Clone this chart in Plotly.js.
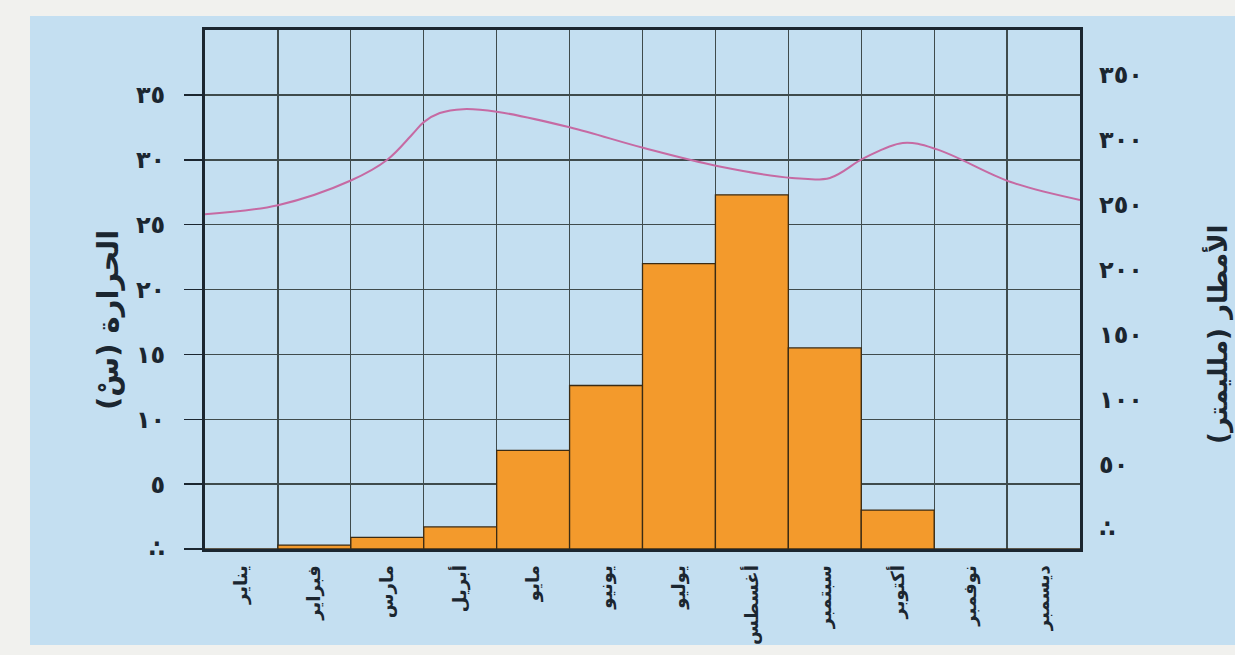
<!DOCTYPE html>
<html>
<head>
<meta charset="utf-8">
<script src="https://cdn.plot.ly/plotly-3.0.1.min.js"></script>
<style>
  html, body { margin: 0; padding: 0; background: #f1f1ee; }
  #chart { width: 1235px; height: 655px; }
</style>
</head>
<body>
<div id="chart"></div>
<script>
// Months (categories, positioned 1..12)
const months = ['يناير','فبراير','مارس','أبريل','مايو','يونيو','يوليو','أغسطس','سبتمبر','أكتوبر','نوفمبر','ديسمبر'];
const monthPos = [1,2,3,4,5,6,7,8,9,10,11,12];

// Rainfall (mm) per month
const rainfall = [0, 3, 9, 17, 76, 126, 220, 273, 155, 30, 0, 0];

// Temperature curve (°C), positions in month units
const tempPos = [0.5, 1.5, 2.5, 3.0, 3.35, 3.5, 3.72, 4.04, 4.5, 5.5, 6.52, 7.54, 8.55, 9.07, 9.53, 10.07, 10.54, 11.54, 12.5];
const tempVal = [25.8, 26.5, 28.4, 30.0, 32.0, 32.9, 33.6, 33.9, 33.7, 32.5, 30.9, 29.5, 28.6, 28.6, 30.1, 31.3, 30.8, 28.3, 26.9];

// Axis tick labels
const tempTickVals = [0, 5, 10, 15, 20, 25, 30, 35];
const tempTickText = ['∴', '٥', '١٠', '١٥', '٢٠', '٢٥', '٣٠', '٣٥'];
const rainTickVals = [0, 50, 100, 150, 200, 250, 300, 350];
const rainTickText = ['∴', '٥٠', '١٠٠', '١٥٠', '٢٠٠', '٢٥٠', '٣٠٠', '٣٥٠'];

const tempTitle = 'الحرارة (سْ)';
const rainTitle = 'الأمطار (ملليمتر)';

const ink = '#1b2630';
const gridCol = '#3f4b4c';
const blue = '#c4dff1';
const fontFam = 'DejaVu Sans, Noto Sans, sans-serif';

const traces = [
  {
    type: 'bar',
    x: monthPos,
    y: rainfall,
    yaxis: 'y2',
    width: 1,
    marker: { color: '#f39a2c', line: { color: '#3a2b14', width: 1.3 } },
    hoverinfo: 'y',
    showlegend: false
  },
  {
    type: 'scatter',
    mode: 'lines',
    x: tempPos,
    y: tempVal,
    yaxis: 'y',
    line: { color: '#c66aa3', width: 2, shape: 'spline', smoothing: 1 },
    showlegend: false
  }
];

const layout = {
  width: 1235,
  height: 655,
  margin: { l: 205, r: 155, t: 30, b: 106 },
  paper_bgcolor: '#f1f1ee',
  plot_bgcolor: blue,
  font: { family: fontFam, color: ink },
  bargap: 0,
  shapes: [
    { type: 'rect', xref: 'paper', yref: 'paper', layer: 'below',
      x0: -205/875 + 30/875, x1: 1 + 155/875, y0: -106/519 + 10/519, y1: 1 + 14/519,
      fillcolor: blue, line: { width: 0 } }
  ],
  annotations: [
    { text: tempTitle, xref: 'paper', yref: 'paper', x: (108 - 205) / 875, y: (549 - 320) / 519,
      xanchor: 'center', yanchor: 'middle', textangle: -90, showarrow: false,
      font: { family: fontFam, size: 29, color: ink, weight: 'bold' } },
    { text: rainTitle, xref: 'paper', yref: 'paper', x: (1218 - 205) / 875, y: (549 - 335) / 519,
      xanchor: 'center', yanchor: 'middle', textangle: -90, showarrow: false,
      font: { family: fontFam, size: 26, color: ink, weight: 'bold' } }
  ],
  xaxis: {
    range: [0.5, 12.5],
    tickmode: 'array',
    tickvals: monthPos,
    ticktext: months,
    tickangle: -90,
    ticks: '',
    showgrid: false,
    zeroline: false,
    showline: true,
    linecolor: ink,
    linewidth: 3,
    mirror: true,
    ticklabelstandoff: 6,
    tickfont: { family: fontFam, size: 18, color: ink, weight: 'bold' },
    minor: { tick0: 0.5, dtick: 1, showgrid: true, gridcolor: gridCol, gridwidth: 1.3, ticks: '' },
    fixedrange: true
  },
  yaxis: {
    range: [0, 40],
    tickmode: 'array',
    tickvals: tempTickVals,
    ticktext: tempTickText,
    ticks: 'outside',
    ticklen: 18,
    tickwidth: 1.5,
    tickcolor: ink,
    ticklabelstandoff: 14,
    tickfont: { family: fontFam, size: 24, color: ink, weight: 'bold' },
    showgrid: true,
    gridcolor: gridCol,
    gridwidth: 1.5,
    zeroline: false,
    showline: true,
    linecolor: ink,
    linewidth: 3,
    mirror: true,
    fixedrange: true
  },
  yaxis2: {
    overlaying: 'y',
    side: 'right',
    range: [0, 400],
    tickmode: 'array',
    tickvals: rainTickVals,
    ticktext: rainTickText,
    ticks: '',
    ticklabelstandoff: 18,
    ticklabelshift: -20,
    tickfont: { family: fontFam, size: 24, color: ink, weight: 'bold' },
    showgrid: false,
    zeroline: false,
    showline: false,
    fixedrange: true
  }
};

Plotly.newPlot('chart', traces, layout, { displayModeBar: false, staticPlot: true });
</script>
</body>
</html>
